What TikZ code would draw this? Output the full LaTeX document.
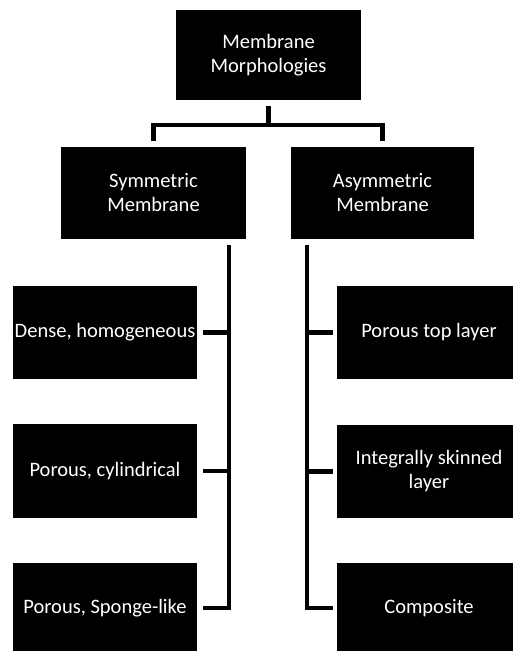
\documentclass[tikz,border=0pt]{standalone}
\usepackage{fontspec}
\setmainfont{Carlito}
\begin{document}
\begin{tikzpicture}[x=1pt,y=-1pt,
  box/.style={fill=black,draw=none,text=white,inner sep=0pt,align=center,
    font=\fontsize{20.5}{24}\selectfont},
  conn/.style={draw=black,line width=4.5pt}]
\useasboundingbox (0,0) rectangle (513,651);
% nodes
\node[box,minimum width=185pt,minimum height=90pt] (top) at (268.5,55) {Membrane\\Morphologies};
\node[box,minimum width=185pt,minimum height=92pt] (sym) at (153.5,193) {Symmetric\\Membrane};
\node[box,minimum width=183pt,minimum height=92pt] (asym) at (382.5,193) {Asymmetric\\Membrane};
\node[box,minimum width=184pt,minimum height=93pt] (dense) at (105,332.5) {Dense, homogeneous};
\node[box,minimum width=184pt,minimum height=94pt] (cyl) at (105,471) {Porous, cylindrical};
\node[box,minimum width=184pt,minimum height=90pt] (sponge) at (105,608) {Porous, Sponge-like};
\node[box,minimum width=184pt,minimum height=93pt] (ptl) at (429,332.5) {Porous top layer};
\node[box,minimum width=184pt,minimum height=93pt] (isl) at (429,471.5) {Integrally skinned\\layer};
\node[box,minimum width=184pt,minimum height=90pt] (comp) at (429,608) {Composite};
% top tree
\draw[conn] ([yshift=-6pt]top.south) -- ([yshift=-25pt]top.south);
\draw[conn] ([yshift=6pt]sym.north) |- ([yshift=-25pt]top.south) -| ([yshift=6pt]asym.north);
% left branch
\draw[conn] ([xshift=-17pt,yshift=-6pt]sym.south east) coordinate (lt) |- ([xshift=6pt]sponge.east);
\draw[conn] ([xshift=6pt]dense.east) -- (dense.east -| lt);
\draw[conn] ([xshift=6pt]cyl.east) -- (cyl.east -| lt);
% right branch
\draw[conn] ([xshift=16pt,yshift=-6pt]asym.south west) coordinate (rt) |- ([xshift=-4pt]comp.west);
\draw[conn] ([xshift=-4pt]ptl.west) -- (ptl.west -| rt);
\draw[conn] ([xshift=-4pt]isl.west) -- (isl.west -| rt);
\end{tikzpicture}
\end{document}
